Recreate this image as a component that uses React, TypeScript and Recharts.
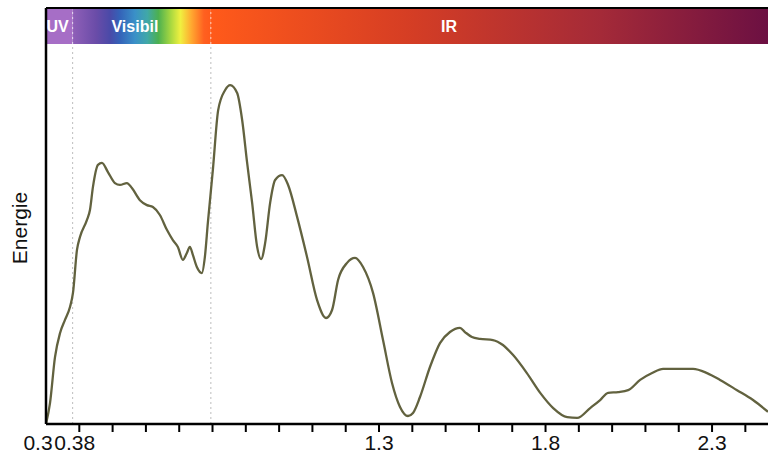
import { LineChart, Line, XAxis, YAxis, ReferenceArea, ReferenceLine, ReferenceDot } from "recharts";

// wavelength (µm) and relative energy
const WAVELENGTH = [
  0.3, 0.312, 0.327, 0.342, 0.357, 0.372, 0.381, 0.393, 0.402, 0.423, 0.432, 0.441, 0.456, 0.468, 0.486,
  0.507, 0.522, 0.543, 0.558, 0.582, 0.603, 0.621, 0.642, 0.663, 0.681, 0.696, 0.711, 0.723, 0.732, 0.741,
  0.753, 0.768, 0.777, 0.786, 0.801, 0.817, 0.838, 0.853, 0.874, 0.889, 0.904, 0.919, 0.934, 0.946, 0.958,
  0.973, 0.988, 1.009, 1.027, 1.054, 1.084, 1.114, 1.141, 1.159, 1.177, 1.204, 1.228, 1.252, 1.282, 1.312,
  1.339, 1.363, 1.387, 1.402, 1.423, 1.453, 1.483, 1.513, 1.543, 1.558, 1.579, 1.603, 1.642, 1.672, 1.702,
  1.744, 1.784, 1.823, 1.865, 1.895, 1.934, 1.964, 1.988, 2.018, 2.048, 2.084, 2.12, 2.153, 2.195, 2.243,
  2.285, 2.324, 2.375, 2.423, 2.468,
];
const ENERGY = [
  0, 5.5, 17.6, 23.9, 27.4, 30.8, 34.5, 45.8, 49.2, 53.7, 56.3, 62.4, 68.2, 68.7, 66.3,
  63.4, 62.9, 63.4, 62.1, 58.9, 57.6, 57.1, 55.0, 51.1, 48.4, 46.6, 43.2, 45.0, 46.6, 44.5,
  41.3, 39.7, 43.9, 52.9, 66.8, 82.6, 87.9, 89.2, 87.1, 80.0, 68.7, 58.2, 46.6, 43.4, 47.6,
  58.2, 64.2, 65.5, 62.9, 54.5, 43.9, 32.6, 27.9, 30.0, 37.9, 42.4, 43.7, 41.3, 34.5, 22.1,
  10.8, 4.5, 2.1, 2.9, 7.1, 15.0, 21.3, 24.2, 25.3, 24.2, 22.9, 22.4, 22.1, 20.8, 18.2,
  13.4, 8.2, 4.2, 1.8, 1.6, 4.2, 6.3, 8.2, 8.4, 8.9, 11.6, 13.4, 14.5, 14.5, 14.5,
  13.4, 11.6, 8.9, 6.3, 3.2,
];

const TICKS = [
  0.3, 0.38, 0.4, 0.5, 0.6, 0.7, 0.8, 0.9, 1.0, 1.1, 1.2, 1.3, 1.4, 1.5, 1.6, 1.7, 1.8, 1.9,
  2.0, 2.1, 2.2, 2.3, 2.4,
];
const TICK_LABELS: Record<string, string> = { "0.3": "0.3", "0.38": "0.38", "1.3": "1.3", "1.8": "1.8", "2.3": "2.3" };

const BANDS = ["UV", "Visibil", "IR"];
const BAND_LABEL_X = [0.335, 0.567, 1.51];

const X_MIN = 0.3;
const X_MAX = 2.468;
const UV_END = 0.38;
const VIS_END = 0.795;
const BAR_BOTTOM = 100;
const Y_MAX = 109.47;

const data = WAVELENGTH.map((wl, i) => ({ wl, e: ENERGY[i] }));

const font = '"Liberation Sans", Arial, sans-serif';

function Tick({ x, y, payload }: any) {
  const v = payload.value;
  const label = TICK_LABELS[String(v)];
  const dx = v === 0.3 ? -8 : v === 0.38 ? 2 : 0;
  return (
    <g>
      {v >= 0.4 && <line x1={x} x2={x} y1={y} y2={y + 8} stroke="#000" strokeWidth={2} />}
      {label && (
        <text x={x + dx} y={y + 26} textAnchor="middle" fontSize={21} fill="#111" fontFamily={font}>
          {label}
        </text>
      )}
    </g>
  );
}

function EnergyLabel() {
  return (
    <text x={27} y={228} transform="rotate(-90 27 228)" textAnchor="middle" fontSize={21} fill="#111" fontFamily={font}>
      Energie
    </text>
  );
}

export default function App() {
  return (
    <div style={{ position: "absolute", left: 0, top: 0, width: 768, height: 455, background: "#fff" }}>
      <LineChart width={768} height={455} data={data} margin={{ top: 8, right: 0, bottom: 0, left: 0 }}>
        <defs>
          <linearGradient id="visGrad" x1="0" y1="0" x2="1" y2="0">
            <stop offset="0%" stopColor="#9060b8" />
            <stop offset="17%" stopColor="#6a4ca8" />
            <stop offset="27%" stopColor="#4a4aa8" />
            <stop offset="34%" stopColor="#3462b8" />
            <stop offset="45%" stopColor="#3a90c8" />
            <stop offset="54%" stopColor="#40a8a8" />
            <stop offset="62%" stopColor="#4cb050" />
            <stop offset="71%" stopColor="#a8d840" />
            <stop offset="78%" stopColor="#f0f040" />
            <stop offset="86%" stopColor="#ffa830" />
            <stop offset="95%" stopColor="#ff6020" />
            <stop offset="100%" stopColor="#ff5a1a" />
          </linearGradient>
          <linearGradient id="irGrad" x1="0" y1="0" x2="1" y2="0">
            <stop offset="0%" stopColor="#ff5a1a" />
            <stop offset="35%" stopColor="#d63e24" />
            <stop offset="70%" stopColor="#a42a38" />
            <stop offset="100%" stopColor="#6c1042" />
          </linearGradient>
        </defs>
        <XAxis
          dataKey="wl"
          type="number"
          domain={[X_MIN, X_MAX]}
          ticks={TICKS}
          interval={0}
          allowDataOverflow
          height={31}
          tickSize={0}
          tickMargin={0}
          tickLine={false}
          axisLine={{ stroke: "#000", strokeWidth: 2.5 }}
          tick={<Tick />}
        />
        <YAxis
          type="number"
          domain={[0, Y_MAX]}
          allowDataOverflow
          width={46}
          tick={false}
          tickLine={false}
          axisLine={{ stroke: "#000", strokeWidth: 2.5 }}
          label={{ content: () => <EnergyLabel /> }}
        />
        <ReferenceArea x1={X_MIN} x2={UV_END} y1={BAR_BOTTOM} y2={Y_MAX} fill="#a66ec6" fillOpacity={1} stroke="none" />
        <ReferenceArea x1={UV_END} x2={VIS_END} y1={BAR_BOTTOM} y2={Y_MAX} fill="url(#visGrad)" fillOpacity={1} stroke="none" />
        <ReferenceArea x1={VIS_END} x2={X_MAX} y1={BAR_BOTTOM} y2={Y_MAX} fill="url(#irGrad)" fillOpacity={1} stroke="none" />
        {[UV_END, VIS_END].map((b) => (
          <ReferenceLine
            key={"lo" + b}
            segment={[{ x: b, y: 0 }, { x: b, y: BAR_BOTTOM }]}
            stroke="#bdbdbd"
            strokeDasharray="2 3"
          />
        ))}
        {[UV_END, VIS_END].map((b) => (
          <ReferenceLine
            key={"hi" + b}
            segment={[{ x: b, y: BAR_BOTTOM }, { x: b, y: Y_MAX }]}
            stroke="#ffffff"
            strokeOpacity={0.7}
            strokeDasharray="2 3"
          />
        ))}
        <ReferenceLine y={Y_MAX} stroke="#000" strokeWidth={2} />
        {BANDS.map((b, i) => (
          <ReferenceDot
            key={b}
            x={BAND_LABEL_X[i]}
            y={(BAR_BOTTOM + Y_MAX) / 2}
            r={0}
            fill="none"
            stroke="none"
            label={{ value: b, position: "center", fill: "#fff", fontSize: 16, fontWeight: "bold", fontFamily: font }}
          />
        ))}
        <Line
          type="monotone"
          dataKey="e"
          stroke="#62623f"
          strokeWidth={2.3}
          dot={false}
          isAnimationActive={false}
        />
      </LineChart>
    </div>
  );
}
